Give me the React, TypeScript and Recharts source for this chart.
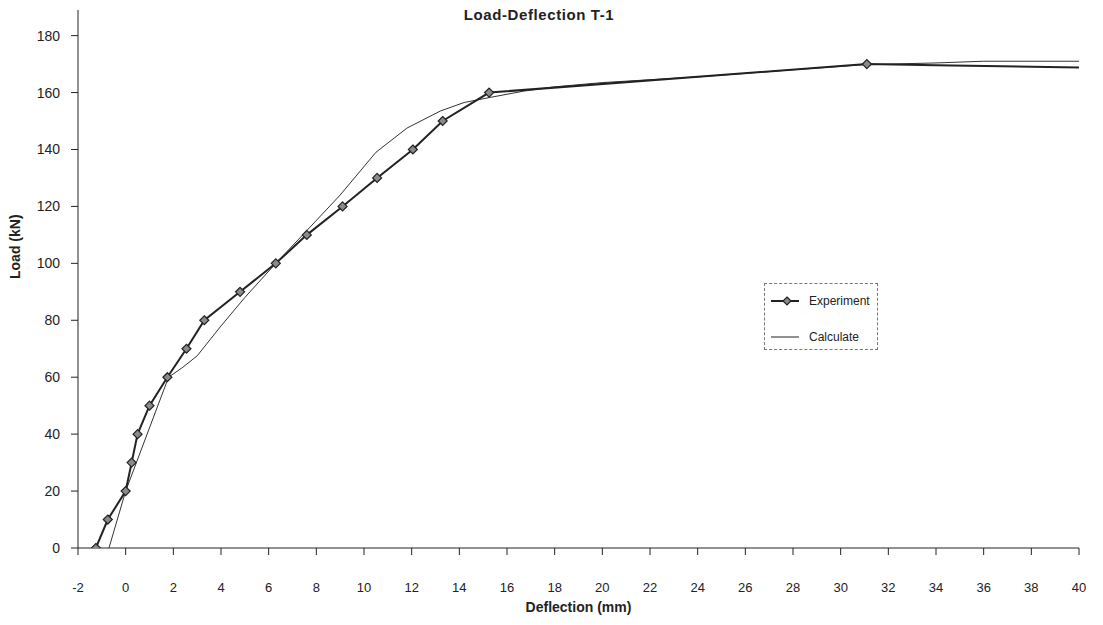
import { LineChart, Line, XAxis, YAxis } from 'recharts';

// Experiment: measured points (with markers), then the unmarked tail
const expDefl = [-1.25, -0.75, 0, 0.25, 0.5, 1, 1.75, 2.55, 3.3, 4.8, 6.3, 7.6, 9.1, 10.55, 12.05, 13.3, 15.25, 31.1];
const expLoad = [0, 10, 20, 30, 40, 50, 60, 70, 80, 90, 100, 110, 120, 130, 140, 150, 160, 170];
const expTailDefl = [34, 40];
const expTailLoad = [169.6, 168.8];

// Calculate curve
const calcDefl = [-0.7, 0, 1.8, 2.4, 3, 4, 5, 6.3, 7.6, 9, 10.5, 11.8, 13.2, 14.2, 15.3, 16.7, 18, 20, 24, 28, 31, 34, 36, 40];
const calcLoad = [0, 20, 60, 63.5, 67.5, 78, 88, 100, 111.5, 124, 139, 147.5, 153.5, 156.5, 158.3, 160.5, 162, 163.5, 165.5, 168, 169.8, 170.4, 171, 171];

const xTicks = [-2, 0, 2, 4, 6, 8, 10, 12, 14, 16, 18, 20, 22, 24, 26, 28, 30, 32, 34, 36, 38, 40];
const yTicks = [0, 20, 40, 60, 80, 100, 120, 140, 160, 180];

const FONT = '"Liberation Sans", Arial, sans-serif';
const INK = '#222';

const experiment = [
  ...expDefl.map((x, i) => ({ x, y: expLoad[i], mark: true })),
  ...expTailDefl.map((x, i) => ({ x, y: expTailLoad[i], mark: false })),
];
const calculate = calcDefl.map((x, i) => ({ x, y: calcLoad[i] }));

function Diamond({ cx, cy, r = 4.5 }: { cx: number; cy: number; r?: number }) {
  return (
    <polygon
      points={`${cx},${cy - r} ${cx + r},${cy} ${cx},${cy + r} ${cx - r},${cy}`}
      fill="#8a8a8a"
      stroke={INK}
      strokeWidth={1.2}
    />
  );
}

function ExpDot(props: any) {
  const { cx, cy, payload, index } = props;
  if (!payload || !payload.mark) return <g key={index} />;
  return <Diamond key={index} cx={cx} cy={cy} />;
}

function LegendBox() {
  return (
    <div
      style={{
        position: 'absolute',
        left: 764,
        top: 283,
        width: 114,
        height: 67,
        border: '1px dashed #777',
        background: '#fff',
        fontFamily: FONT,
        fontSize: 12,
        color: INK,
        boxSizing: 'border-box',
      }}
    >
      <svg width={40} height={66} style={{ position: 'absolute', left: 0, top: 0 }}>
        <line x1={6} x2={34} y1={17} y2={17} stroke={INK} strokeWidth={2} />
        <Diamond cx={22} cy={17} r={4} />
        <line x1={6} x2={34} y1={53} y2={53} stroke={INK} strokeWidth={1} />
      </svg>
      <div style={{ position: 'absolute', left: 44, top: 10 }}>Experiment</div>
      <div style={{ position: 'absolute', left: 44, top: 46 }}>Calculate</div>
    </div>
  );
}

export default function App() {
  return (
    <div style={{ position: 'absolute', left: 0, top: 0, width: 1103, height: 625, background: '#fff' }}>
      <LineChart width={1103} height={625} margin={{ top: 10, right: 24, bottom: 17, left: 0 }}>
        <XAxis
          type="number"
          dataKey="x"
          domain={[-2, 40]}
          ticks={xTicks}
          allowDataOverflow
          stroke={INK}
          tickSize={7}
          tickMargin={28}
          height={60}
          tick={{ fill: INK, fontSize: 13, fontFamily: FONT }}
          label={{
            value: 'Deflection (mm)',
            position: 'insideBottom',
            offset: -4,
            fill: INK,
            fontSize: 14,
            fontWeight: 'bold',
            fontFamily: FONT,
          }}
        />
        <YAxis
          type="number"
          dataKey="y"
          domain={[0, 189]}
          ticks={yTicks}
          allowDataOverflow
          stroke={INK}
          tickSize={7}
          tickMargin={11}
          width={78}
          tick={{ fill: INK, fontSize: 14, fontFamily: FONT }}
          label={{
            value: 'Load (kN)',
            angle: -90,
            position: 'insideLeft',
            offset: 15,
            fill: INK,
            fontSize: 14,
            fontWeight: 'bold',
            fontFamily: FONT,
          }}
        />
        <Line
          data={calculate}
          dataKey="y"
          name="Calculate"
          type="linear"
          stroke="#333"
          strokeWidth={1}
          dot={false}
          isAnimationActive={false}
        />
        <Line
          data={experiment}
          dataKey="y"
          name="Experiment"
          type="linear"
          stroke={INK}
          strokeWidth={2}
          dot={ExpDot}
          activeDot={false}
          isAnimationActive={false}
        />
      </LineChart>
      <div
        style={{
          position: 'absolute',
          left: 0,
          width: 1078,
          top: 6,
          textAlign: 'center',
          fontFamily: FONT,
          fontWeight: 'bold',
          fontSize: 15,
          letterSpacing: 0.6,
          color: INK,
        }}
      >
        Load-Deflection T-1
      </div>
      <LegendBox />
    </div>
  );
}
